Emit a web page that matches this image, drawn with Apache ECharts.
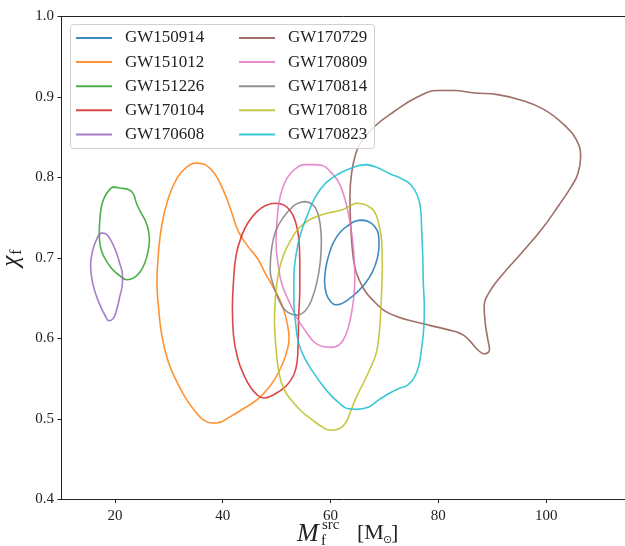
<!DOCTYPE html>
<html><head><meta charset="utf-8">
<script src="https://cdn.jsdelivr.net/npm/echarts@6/dist/echarts.min.js"></script>
<style>html,body{margin:0;padding:0;background:#fff}#c{width:625px;height:546px}</style>
</head><body><div id="c"></div><script>
const eventNames = ['GW150914','GW151012','GW151226','GW170104','GW170608','GW170729','GW170809','GW170814','GW170818','GW170823'];
const xTicks = [20, 40, 60, 80, 100];
const yTicks = [0.4, 0.5, 0.6, 0.7, 0.8, 0.9, 1.0];

const GW150914 = [[65.9,0.747],[67.1,0.745],[68.2,0.739],[68.9,0.729],[69.0,0.716],[68.7,0.700],[67.8,0.683],[66.5,0.669],[65.0,0.658],[63.4,0.649],[61.9,0.643],[60.9,0.642],[60.0,0.646],[59.2,0.656],[58.9,0.671],[59.1,0.687],[59.7,0.704],[60.6,0.720],[61.9,0.733],[63.4,0.741],[64.7,0.746]];
const GW151012 = [[35.2,0.818],[36.7,0.816],[38.0,0.809],[39.2,0.797],[40.5,0.778],[41.7,0.756],[42.9,0.733],[44.5,0.716],[46.4,0.700],[47.9,0.681],[49.5,0.662],[51.0,0.642],[51.9,0.621],[52.3,0.600],[51.9,0.584],[51.0,0.567],[49.8,0.551],[48.2,0.536],[46.4,0.524],[43.9,0.513],[41.4,0.503],[38.9,0.495],[38.0,0.495],[36.4,0.499],[35.2,0.507],[33.3,0.524],[31.5,0.546],[29.9,0.571],[28.7,0.604],[28.1,0.638],[27.8,0.671],[28.1,0.708],[28.7,0.741],[29.9,0.774],[31.5,0.799],[33.3,0.813]];
const GW151226 = [[19.7,0.788],[20.9,0.787],[22.5,0.785],[23.4,0.780],[24.0,0.768],[24.7,0.758],[25.6,0.747],[26.2,0.735],[26.4,0.722],[26.2,0.710],[25.6,0.695],[24.7,0.683],[23.4,0.675],[22.2,0.673],[20.9,0.678],[19.4,0.687],[18.1,0.700],[17.3,0.714],[17.1,0.731],[17.2,0.747],[17.5,0.764],[18.1,0.776],[18.9,0.784]];
const GW170104 = [[49.8,0.768],[51.3,0.766],[52.6,0.758],[53.5,0.745],[54.1,0.725],[54.3,0.695],[54.3,0.662],[54.1,0.629],[54.0,0.596],[53.8,0.571],[53.2,0.555],[51.9,0.542],[50.4,0.534],[48.8,0.528],[47.6,0.526],[46.4,0.530],[45.1,0.540],[43.9,0.555],[42.8,0.575],[42.0,0.604],[41.8,0.638],[42.0,0.671],[42.5,0.704],[43.6,0.729],[44.8,0.745],[46.4,0.758],[47.9,0.765]];
const GW170608 = [[17.7,0.731],[18.5,0.729],[19.4,0.720],[20.2,0.708],[20.9,0.693],[21.4,0.679],[21.4,0.669],[20.9,0.652],[20.3,0.635],[19.7,0.625],[18.9,0.622],[18.3,0.627],[17.2,0.642],[16.3,0.658],[15.7,0.675],[15.5,0.691],[15.9,0.710],[16.6,0.723],[17.2,0.730]];
const GW170729 = [[65.6,0.843],[68.1,0.863],[71.8,0.882],[76.1,0.900],[79.9,0.908],[82.9,0.908],[86.7,0.905],[91.0,0.903],[95.4,0.896],[99.7,0.884],[103.4,0.865],[105.6,0.847],[106.4,0.826],[105.9,0.805],[104.7,0.789],[102.2,0.764],[99.1,0.735],[95.4,0.706],[91.6,0.677],[89.5,0.658],[88.5,0.640],[88.7,0.619],[89.2,0.598],[89.5,0.586],[88.5,0.581],[87.3,0.586],[85.7,0.598],[84.2,0.606],[81.7,0.611],[78.6,0.616],[75.5,0.621],[72.4,0.627],[69.9,0.635],[68.1,0.646],[66.5,0.658],[65.3,0.673],[64.5,0.689],[64.0,0.714],[63.7,0.747],[63.6,0.776],[63.9,0.805],[64.7,0.830]];
const GW170809 = [[56.9,0.816],[58.5,0.815],[60.0,0.807],[61.6,0.793],[62.8,0.770],[63.7,0.741],[64.3,0.708],[64.5,0.675],[64.3,0.650],[63.7,0.625],[62.8,0.604],[61.6,0.592],[60.0,0.589],[58.5,0.590],[56.9,0.596],[55.4,0.609],[53.8,0.625],[52.3,0.646],[51.0,0.667],[50.3,0.691],[49.9,0.720],[50.1,0.749],[50.7,0.778],[51.9,0.799],[53.5,0.811],[55.4,0.816]];
const GW170814 = [[55.2,0.770],[56.6,0.767],[57.5,0.758],[58.1,0.741],[58.3,0.720],[58.1,0.695],[57.5,0.671],[56.6,0.650],[55.4,0.635],[53.8,0.629],[52.9,0.630],[51.6,0.635],[50.4,0.648],[49.5,0.664],[48.8,0.685],[49.0,0.708],[49.8,0.733],[51.3,0.751],[53.2,0.765],[54.4,0.769]];
const GW170818 = [[65.0,0.768],[66.5,0.766],[68.1,0.758],[69.0,0.741],[69.5,0.720],[69.6,0.691],[69.5,0.662],[69.3,0.633],[69.0,0.604],[68.4,0.580],[67.1,0.559],[65.9,0.542],[64.7,0.526],[63.7,0.509],[62.8,0.495],[61.6,0.488],[60.0,0.486],[58.5,0.490],[56.6,0.499],[54.7,0.509],[52.9,0.522],[51.3,0.538],[50.4,0.559],[49.9,0.588],[49.6,0.621],[49.8,0.654],[50.4,0.683],[51.3,0.704],[52.6,0.722],[54.1,0.737],[56.0,0.747],[58.1,0.753],[60.3,0.757],[62.2,0.760],[63.7,0.765]];
const GW170823 = [[66.5,0.816],[68.4,0.813],[70.9,0.805],[73.3,0.798],[74.9,0.791],[76.1,0.778],[76.7,0.762],[76.9,0.737],[77.1,0.704],[77.2,0.671],[77.4,0.638],[77.3,0.613],[76.9,0.588],[76.4,0.567],[75.5,0.551],[74.3,0.542],[72.7,0.538],[70.9,0.532],[69.0,0.524],[67.1,0.515],[64.7,0.512],[63.1,0.513],[61.6,0.520],[60.0,0.530],[58.5,0.542],[56.9,0.557],[55.4,0.573],[54.1,0.594],[53.5,0.621],[53.2,0.646],[53.2,0.675],[53.6,0.704],[54.4,0.729],[55.7,0.753],[57.2,0.776],[59.1,0.793],[61.6,0.805],[64.0,0.812]];

const contours = [GW150914, GW151012, GW151226, GW170104, GW170608, GW170729, GW170809, GW170814, GW170818, GW170823];
const colors = ['rgba(31,119,180,0.85)','rgba(255,127,14,0.85)','rgba(44,160,44,0.85)','rgba(214,39,40,0.85)','rgba(148,103,189,0.85)','rgba(140,86,75,0.85)','rgba(227,119,194,0.85)','rgba(127,127,127,0.85)','rgba(188,189,34,0.85)','rgba(23,190,207,0.85)'];

const closeLoop = pts => pts.concat([pts[0], pts[1]]);

const series = eventNames.map((n, i) => ({
  name: n, type: 'line', data: closeLoop(contours[i]), smooth: 0.45,
  showSymbol: false, symbol: 'none', color: colors[i],
  lineStyle: { width: 1.6, color: colors[i] }, z: 2, animation: false
}));

const serif = 'Liberation Serif, DejaVu Serif, serif';
const legendBase = {
  orient: 'vertical', icon: 'rect', itemWidth: 36, itemHeight: 2, itemGap: 7.1, padding: 0,
  textStyle: { fontFamily: serif, fontSize: 17, color: '#222', lineHeight: 16, padding: [0, 0, 0, 8] },
  z: 20, selectedMode: false
};

const chart = echarts.init(document.getElementById('c'), null, { renderer: 'canvas' });
chart.setOption({
  animation: false,
  grid: { left: 61, top: 16.5, width: 566, height: 483, containLabel: false, outerBoundsMode: 'none' },
  xAxis: [{
    type: 'value', min: 10, max: 115,
    axisLine: { show: true, lineStyle: { color: '#222', width: 1 } },
    axisTick: { show: true, customValues: xTicks, length: 3.5, inside: false, lineStyle: { color: '#222' } },
    axisLabel: { customValues: xTicks, margin: 9, fontFamily: serif, fontSize: 15, color: '#222' },
    splitLine: { show: false }
  }, {
    type: 'value', min: 10, max: 115, position: 'top',
    axisLine: { show: true, onZero: false, lineStyle: { color: '#222', width: 1 } },
    axisTick: { show: false }, axisLabel: { show: false }, splitLine: { show: false }
  }],
  yAxis: {
    type: 'value', min: 0.4, max: 1.0,
    axisLine: { show: true, lineStyle: { color: '#222', width: 1 } },
    axisTick: { show: true, customValues: yTicks, length: 3.5, lineStyle: { color: '#222' } },
    axisLabel: { customValues: yTicks, margin: 7, fontFamily: serif, fontSize: 15, color: '#222',
      formatter: v => v.toFixed(1) },
    splitLine: { show: false },
    name: '{a|χ}{b|f}', nameLocation: 'middle', nameRotate: 90, nameGap: 31,
    nameTextStyle: { rich: {
      a: { fontFamily: serif, fontStyle: 'italic', fontSize: 25, color: '#222' },
      b: { fontFamily: serif, fontSize: 16, color: '#222', padding: [9, 0, 0, 1] }
    } }
  },
  legend: [
    Object.assign({}, legendBase, { data: eventNames.slice(0, 5), left: 76, top: 29.5 }),
    Object.assign({}, legendBase, { data: eventNames.slice(5), left: 239, top: 29.5 })
  ],
  graphic: [
    { type: 'rect', z: 15, shape: { x: 70.5, y: 24.5, width: 304, height: 124, r: 3 },
      style: { fill: 'rgba(255,255,255,0.8)', stroke: '#d0d0d0', lineWidth: 1 } },
    { type: 'text', z: 15, left: 297, top: 521, style: { text: 'M', font: 'italic 26px ' + serif, fill: '#222' } },
    { type: 'text', z: 15, left: 322, top: 518, style: { text: 'src', font: '15px ' + serif, fill: '#222' } },
    { type: 'text', z: 15, left: 321, top: 534, style: { text: 'f', font: '15px ' + serif, fill: '#222' } },
    { type: 'text', z: 15, left: 357, top: 522, style: { text: '[M', font: '22px ' + serif, fill: '#222' } },
    { type: 'text', z: 15, left: 383, top: 535, style: { text: '⊙', font: '11px DejaVu Sans, serif', fill: '#222' } },
    { type: 'text', z: 15, left: 391, top: 522, style: { text: ']', font: '22px ' + serif, fill: '#222' } }
  ],
  series: series
});
</script></body></html>
